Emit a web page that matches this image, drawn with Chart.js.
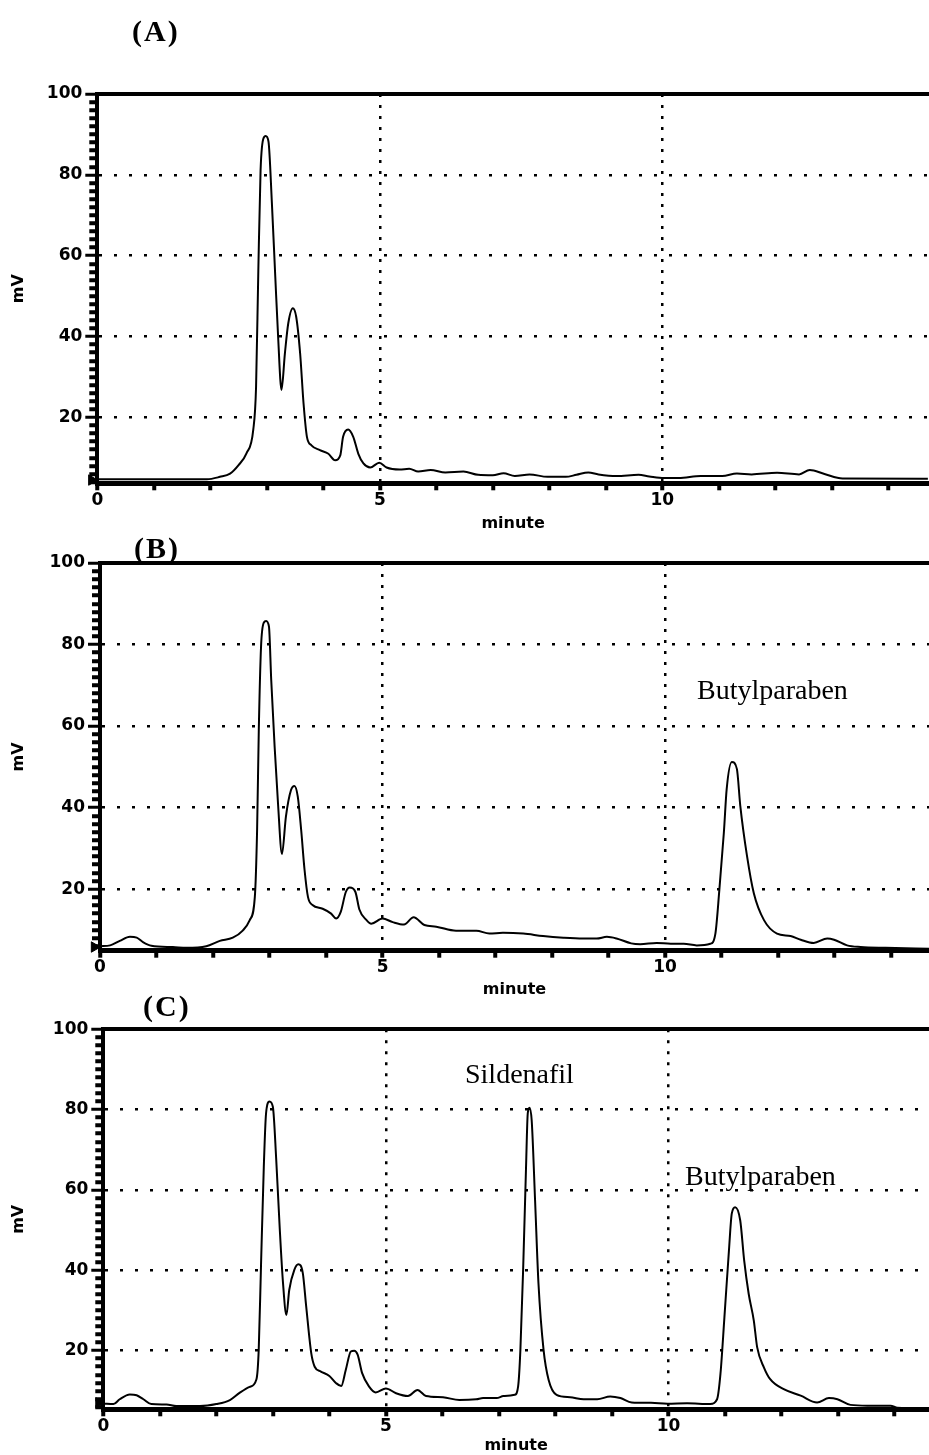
<!DOCTYPE html>
<html><head><meta charset="utf-8">
<script src="https://cdn.jsdelivr.net/npm/chart.js@4.4.1/dist/chart.umd.min.js"></script>
<style>
html,body{margin:0;padding:0;background:#fff;}
body{width:929px;height:1455px;position:relative;overflow:hidden;}
canvas{position:absolute;left:0;}
.lbl{position:absolute;font-family:"Liberation Serif","Times New Roman",serif;line-height:1;white-space:nowrap;color:#000;}
.ttl{font-weight:bold;font-size:30px;letter-spacing:2px;}
.ann{font-size:28px;}
</style></head><body>
<canvas id="cA" width="929" height="540" style="top:0px"></canvas>
<canvas id="cB" width="929" height="460" style="top:540px"></canvas>
<canvas id="cC" width="929" height="455" style="top:1000px"></canvas>
<div class="lbl ttl" style="left:132px;top:16px">(A)</div>
<div class="lbl ttl" style="left:134px;top:533px">(B)</div>
<div class="lbl ttl" style="left:143px;top:991px">(C)</div>
<div class="lbl ann" style="left:697px;top:676px">Butylparaben</div>
<div class="lbl ann" style="left:465px;top:1060px">Sildenafil</div>
<div class="lbl ann" style="left:685px;top:1162px">Butylparaben</div>
<script>
// ---- data (minutes, mV) ----
const timesA = [0,1.0,1.94,2.17,2.35,2.5,2.64,2.76,2.81,2.85,2.89,2.95,2.98,3.03,3.09,3.15,3.2,3.26,3.32,3.38,3.46,3.52,3.59,3.65,3.71,3.79,3.94,4.09,4.21,4.3,4.35,4.44,4.53,4.62,4.71,4.83,4.99,5.12,5.35,5.52,5.68,5.9,6.16,6.48,6.74,7.0,7.19,7.39,7.65,7.97,8.29,8.48,8.69,8.87,9.19,9.58,9.77,10.03,10.29,10.68,11.06,11.32,11.58,12.03,12.42,12.61,12.87,13.19,14.7];
const mvA    = [4.7,4.7,4.7,5.3,6.1,8.2,11.1,16.9,27.6,56.4,81.2,89.3,89.6,88.2,73,54.8,40,26.8,35.8,43.3,47,44.9,35.8,23.5,15.2,13.1,11.9,11.0,9.4,10.6,15.2,17.0,15.2,11.0,8.6,7.6,8.8,7.6,7.1,7.3,6.6,7.0,6.4,6.6,5.8,5.7,6.2,5.5,5.9,5.3,5.3,5.8,6.4,5.9,5.5,5.8,5.4,5.0,5.0,5.5,5.5,6.1,5.9,6.3,5.9,7.0,6.0,4.9,4.8];

const timesB = [0,0.18,0.35,0.53,0.65,0.76,0.91,1.29,1.53,1.88,2.12,2.35,2.53,2.65,2.74,2.78,2.81,2.85,2.9,2.94,2.99,3.03,3.09,3.15,3.22,3.29,3.38,3.44,3.5,3.56,3.62,3.68,3.76,3.94,4.09,4.18,4.26,4.35,4.42,4.52,4.59,4.71,4.8,5.0,5.18,5.38,5.55,5.74,5.95,6.3,6.66,6.89,7.13,7.49,7.84,8.2,8.55,8.79,8.97,9.14,9.4,9.56,9.85,10.1,10.33,10.56,10.8,10.89,10.96,11.04,11.09,11.18,11.27,11.33,11.45,11.57,11.75,11.98,12.22,12.4,12.63,12.87,12.99,13.22,13.46,13.9,14.7];
const mvB    = [6.0,6.2,7.3,8.3,8.1,7.0,6.1,5.8,5.6,6.0,7.3,8.1,9.9,12.4,18.1,34.5,59,79.5,85.4,85.8,84.4,71.3,55,41,28.6,37.8,44.3,45.3,42.7,34.5,24.7,18.1,16.1,15.2,14.0,12.8,14.4,19.3,20.4,19.3,15.0,12.5,11.5,12.8,11.9,11.3,13.1,11.2,10.8,9.8,9.8,9.1,9.3,9.1,8.5,8.1,7.9,7.9,8.3,7.9,6.7,6.5,6.8,6.6,6.6,6.2,6.6,9.1,19.8,33.9,44.6,51.2,49.5,40.5,28.1,19.0,12.4,9.1,8.5,7.6,6.8,7.9,7.6,6.2,5.8,5.6,5.4];

const timesC = [0,0.18,0.29,0.47,0.59,0.71,0.85,1.12,1.29,1.71,2.0,2.24,2.41,2.59,2.71,2.75,2.79,2.84,2.88,2.94,3.0,3.06,3.12,3.18,3.24,3.29,3.38,3.45,3.53,3.59,3.68,3.74,3.85,4.0,4.12,4.21,4.29,4.38,4.44,4.5,4.58,4.7,4.82,5.0,5.18,5.39,5.56,5.71,6.01,6.3,6.6,6.72,6.96,7.08,7.28,7.34,7.38,7.43,7.48,7.51,7.54,7.58,7.64,7.7,7.79,7.88,8.02,8.26,8.5,8.74,8.97,9.15,9.35,9.69,9.98,10.33,10.74,10.86,10.92,10.99,11.07,11.12,11.18,11.27,11.34,11.42,11.51,11.57,11.69,11.8,12.04,12.34,12.63,12.84,12.99,13.22,13.52,13.93,14.05,14.6];
const mvC    = [6.8,6.7,7.9,9.1,8.9,7.9,6.7,6.6,6.2,6.2,6.7,7.7,9.5,11.0,12.9,20.2,40.9,65.8,79.1,82.0,80.7,67.5,50.9,36.8,28.9,35.1,40.1,41.5,39.3,31.0,19.3,16.0,14.8,13.7,11.9,11.2,15.2,19.8,20.0,19.0,14.4,11.1,9.6,10.6,9.4,8.7,10.2,8.7,8.4,7.7,7.9,8.2,8.2,8.7,9.0,11.1,20.2,40.9,65.7,79.0,80.5,77.3,57.4,36.7,20.2,12.7,9.0,8.4,7.9,7.9,8.6,8.2,7.1,7.0,6.8,6.9,6.7,7.9,14.2,28.3,44.9,54.1,55.7,52.4,42.4,34.1,27.5,20.8,15.8,12.9,10.4,8.8,7.1,8.2,7.9,6.5,6.3,6.3,5.8,5.6];

// baseline start markers (minutes, mV)
const markerA = [-0.1, 4.5];
const markerB = [-0.1, 5.8];
const markerC = [-0.08, 7.0];

// tick labels
const yTickLabels = ['20','40','60','80','100'];
const xTickLabels = ['0','5','10'];
const xGridAt = [5, 10];
const yGridEvery = 20;

Chart.defaults.font.family = 'DejaVu Sans';
Chart.defaults.color = '#000';

const tickFont = {family:'DejaVu Sans', weight:'bold', size:17};

function makeChart(id, times, mv, marker, L) {
  const isMajorY = c => c.tick && c.tick.value % yGridEvery === 0;
  return new Chart(document.getElementById(id), {
    type: 'line',
    data: { datasets: [
      { data: times.map((t,i)=>({x:t, y:mv[i]})), borderColor:'#000', borderWidth:2,
        pointRadius:0, cubicInterpolationMode:'monotone', fill:false },
      { data: [{x:marker[0], y:marker[1]}], showLine:false, pointStyle:'triangle', rotation:90,
        pointRadius:6, backgroundColor:'#000', borderColor:'#000', clip:false }
    ]},
    options: {
      responsive:false, animation:false, devicePixelRatio:1,
      layout:{padding:0, autoPadding:false},
      plugins:{legend:{display:false}, tooltip:{enabled:false}},
      scales:{
        x:{ type:'linear', position:'bottom', min:0, max:L.xMax,
          afterFit: s => { s.height = L.bottomH; },
          ticks:{ stepSize:1, autoSkip:false, includeBounds:false, maxRotation:0, padding:0, font:tickFont, color:'#000',
            callback: v => xTickLabels.includes(String(v)) ? String(v) : '' },
          grid:{ color: c => (c.tick && xGridAt.includes(c.tick.value)) ? '#000' : 'rgba(0,0,0,0)',
            lineWidth:2.5, tickColor:'#000', tickWidth:4, tickLength:7, tickBorderDash:[] },
          border:{ display:true, color:'#000', width:5, dash:[3,8] },
          title:{ display:true, text:'minute', font:{family:'DejaVu Sans', weight:'bold', size:16}, color:'#000',
            padding:{top:0, bottom:L.titlePad} }
        },
        x2:{ type:'linear', position:'top', min:0, max:1,
          afterFit: s => { s.height = L.topH; },
          ticks:{display:false}, grid:{display:false, drawTicks:false},
          border:{display:true, color:'#000', width:4} },
        y:{ type:'linear', position:'left', min:L.yMin, max:100,
          afterFit: s => { s.width = L.yW; },
          ticks:{ stepSize:2, autoSkip:false, includeBounds:false, padding:3, font:tickFont, color:'#000',
            callback: v => yTickLabels.includes(String(v)) ? String(v) : '' },
          grid:{ color: c => (isMajorY(c) && c.tick.value < 100) ? '#000' : 'rgba(0,0,0,0)',
            lineWidth:2.5, tickColor:'#000', tickLength:12,
            tickWidth: c => isMajorY(c) ? 3 : 4,
            tickBorderDash: c => isMajorY(c) ? [] : [0,4,8] },
          border:{ display:true, color:'#000', width:4, dash:[3,12] },
          title:{ display:true, text:'mV', font:{family:'DejaVu Sans', weight:'bold', size:16}, color:'#000',
            padding:{top:9, bottom:0} }
        }
      }
    }
  });
}

makeChart('cA', timesA, mvA, markerA, {xMax:14.72, yMin:3.7, yW:97.3, topH:94, bottomH:56.7, titlePad:6.4});
makeChart('cB', timesB, mvB, markerB, {xMax:14.67, yMin:4.9, yW:100, topH:23, bottomH:49.3, titlePad:0.4});
makeChart('cC', timesC, mvC, markerC, {xMax:14.61, yMin:5.4, yW:103.3, topH:29.3, bottomH:45.7, titlePad:0});
</script>
</body></html>
